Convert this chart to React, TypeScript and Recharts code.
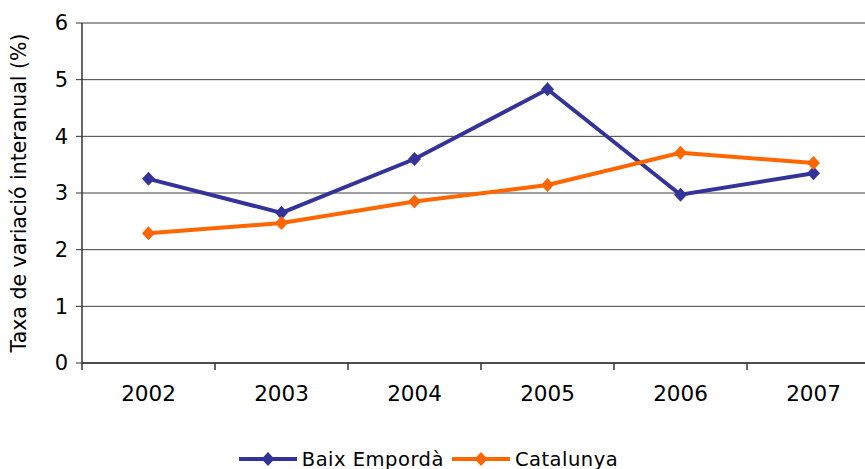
import { LineChart, Line, XAxis, YAxis, CartesianGrid, Legend } from "recharts";

const years = ["2002", "2003", "2004", "2005", "2006", "2007"];
const baixEmporda = [3.25, 2.65, 3.6, 4.83, 2.97, 3.35];
const catalunya = [2.29, 2.47, 2.85, 3.14, 3.71, 3.53];
const yTicks = [0, 1, 2, 3, 4, 5, 6];

const series = [
  { key: "baix", name: "Baix Empordà", color: "#333399" },
  { key: "cat", name: "Catalunya", color: "#FF6600" },
];

const data = years.map((y, i) => ({
  year: y,
  baix: baixEmporda[i],
  cat: catalunya[i],
}));

const FONT = "'DejaVu Sans', Verdana, sans-serif";
const BAND = 133;

const Diamond = (color: string) => (props: any) => {
  const { cx, cy } = props;
  if (cx == null || cy == null) return <g />;
  return (
    <polygon
      points={`${cx},${cy - 7} ${cx + 6.5},${cy} ${cx},${cy + 7} ${cx - 6.5},${cy}`}
      fill={color}
    />
  );
};

const YearTick = (props: any) => {
  const { x, y, payload } = props;
  const axisY = y - 8;
  const left = x - BAND / 2;
  return (
    <g>
      <line x1={left} y1={axisY} x2={left} y2={axisY + 7} stroke="#333" strokeWidth={1.5} />
      <text x={x} y={axisY + 38} textAnchor="middle" fontSize={21.5} fontFamily={FONT} fill="#000">
        {payload.value}
      </text>
    </g>
  );
};

const LegendContent = () => (
  <div
    style={{
      width: 865,
      display: "flex",
      justifyContent: "center",
      alignItems: "center",
      height: 20,
      fontFamily: FONT,
      fontSize: 19.5,
      color: "#000",
    }}
  >
    {series.map((s) => (
      <div key={s.key} style={{ display: "flex", alignItems: "center", marginRight: 8 }}>
        <svg width={58} height={16} style={{ marginRight: 5 }}>
          <line x1={0} y1={8} x2={58} y2={8} stroke={s.color} strokeWidth={4} />
          <polygon points="29,1 35.5,8 29,15 22.5,8" fill={s.color} />
        </svg>
        <span style={{ letterSpacing: 0.5 }}>{s.name}</span>
      </div>
    ))}
  </div>
);

export default function App() {
  return (
    <div style={{ position: "absolute", left: 0, top: 0, width: 865, height: 469, overflow: "hidden", background: "#fff" }}>
      <LineChart
        width={900}
        height={469}
        data={data}
        margin={{ top: 23, right: 20, left: 0, bottom: 0 }}
      >
        <CartesianGrid vertical={false} stroke="#404040" strokeWidth={1} />
        <XAxis
          dataKey="year"
          height={86}
          tick={<YearTick />}
          tickLine={false}
          axisLine={{ stroke: "#333", strokeWidth: 1.5 }}
          interval={0}
          padding={{ left: BAND / 2, right: BAND / 2 }}
        />
        <YAxis
          width={82}
          domain={[0, 6]}
          ticks={yTicks}
          interval={0}
          tickSize={6}
          tickMargin={8}
          tickLine={{ stroke: "#333" }}
          axisLine={{ stroke: "#333", strokeWidth: 1.5 }}
          tick={{ fontSize: 21, fontFamily: FONT, fill: "#000" }}
          label={{
            value: "Taxa de variació interanual (%)",
            angle: -90,
            position: "insideLeft",
            dx: 14,
            dy: 0,
            style: { textAnchor: "middle", fontSize: 20.5, fontFamily: FONT, fill: "#000" },
          }}
        />
        <Legend
          verticalAlign="bottom"
          content={<LegendContent />}
          wrapperStyle={{ left: 0, width: 865, height: 20 }}
        />
        {series.map((s) => (
          <Line
            key={s.key}
            type="linear"
            dataKey={s.key}
            name={s.name}
            stroke={s.color}
            strokeWidth={4}
            dot={Diamond(s.color)}
            activeDot={false}
            isAnimationActive={false}
          />
        ))}
      </LineChart>
    </div>
  );
}
